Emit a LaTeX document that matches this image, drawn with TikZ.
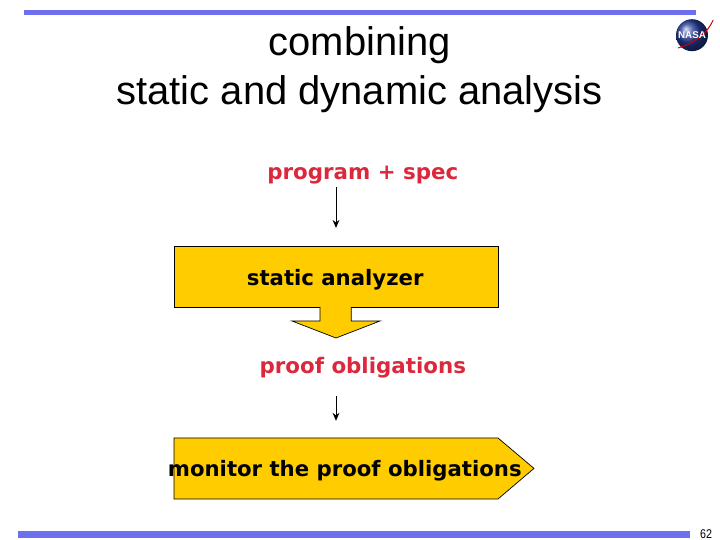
\documentclass[tikz,border=0pt]{standalone}
\usepackage{fontspec}
\setmainfont{Liberation Sans}
\newfontfamily\blockfont{DejaVu Sans}
\usetikzlibrary{arrows.meta,calc,positioning}
\definecolor{barblue}{RGB}{110,110,240}
\definecolor{blockgold}{RGB}{255,204,0}
\definecolor{labelred}{RGB}{220,40,60}
\definecolor{globeblue}{RGB}{35,60,150}

\begin{document}
\begin{tikzpicture}[
  block/.style={draw=black, line width=0.5pt, fill=blockgold},
  blocktext/.style={font=\blockfont\bfseries\fontsize{15.1}{18}\selectfont, text=black, inner sep=0pt},
  redlabel/.style={font=\blockfont\bfseries\fontsize{15.2}{18}\selectfont, text=labelred, inner sep=0pt},
  flow/.style={-{Stealth[length=2mm,width=1.7mm]}, line width=0.7pt},
  bar/.style={fill=barblue, draw=none, minimum height=0pt, inner sep=0pt}
]
\useasboundingbox (0,0) rectangle (18,13.5);

% Balken oben und unten
\node[bar, minimum width=16.80cm, minimum height=0.125cm, anchor=north west] (topbar) at (0.60,13.25) {};
\node[bar, minimum width=16.80cm, minimum height=0.175cm, anchor=south west] (bottombar) at (0.45,0.05) {};

% Titel
\node[font=\fontsize{28.4}{34.7}\selectfont, align=center] (title) at (8.99,11.75)
  {combining\\static and dynamic analysis};

% Logo
\shade[ball color=globeblue] (17.30,12.62) circle (0.40);
\draw[red!80!black, line width=0.7pt] (16.95,12.30) .. controls (17.40,12.42) and (17.70,12.70) .. (17.83,13.0);
\node[font=\bfseries\fontsize{7}{8}\selectfont, text=white, inner sep=0pt] (nasa) at (17.30,12.62) {NASA};

% Bloecke
\node[redlabel] (program) at (9.07,9.13) {program + spec};
\node[block, minimum width=8.10cm, minimum height=1.525cm, inner sep=0pt] (analyzer) at (8.40,6.58) {};
\node[blocktext] (analyzertext) at (8.38,6.51) {static analyzer};
\node[redlabel] (proof) at (9.07,4.30) {proof obligations};

\draw[block] (8.00,5.825) -- (8.00,5.475) -- (7.30,5.475) -- (8.40,5.05)
  -- (9.50,5.475) -- (8.78,5.475) -- (8.78,5.825);

\draw[block] (4.35,2.55) -- (12.45,2.55) -- (13.35,1.79) -- (12.45,1.025) -- (4.35,1.025) -- cycle;
\node[blocktext] (monitor) at (8.62,1.72) {monitor the proof obligations};

% Pfeile
\coordinate (programin) at (8.40,8.82);
\coordinate (proofin) at (8.40,3.60);
\coordinate (monitorin) at (8.40,2.55);
\draw[flow] (programin) -- ([yshift=0.45cm]analyzer.north);
\draw[flow] (proofin) -- ([yshift=0.43cm]monitorin);

% Seitenzahl
\node[font=\fontsize{9}{10}\selectfont, inner sep=0pt, transform shape, xscale=0.85] (pagenum) at (17.65,0.14) {62};

\end{tikzpicture}
\end{document}
